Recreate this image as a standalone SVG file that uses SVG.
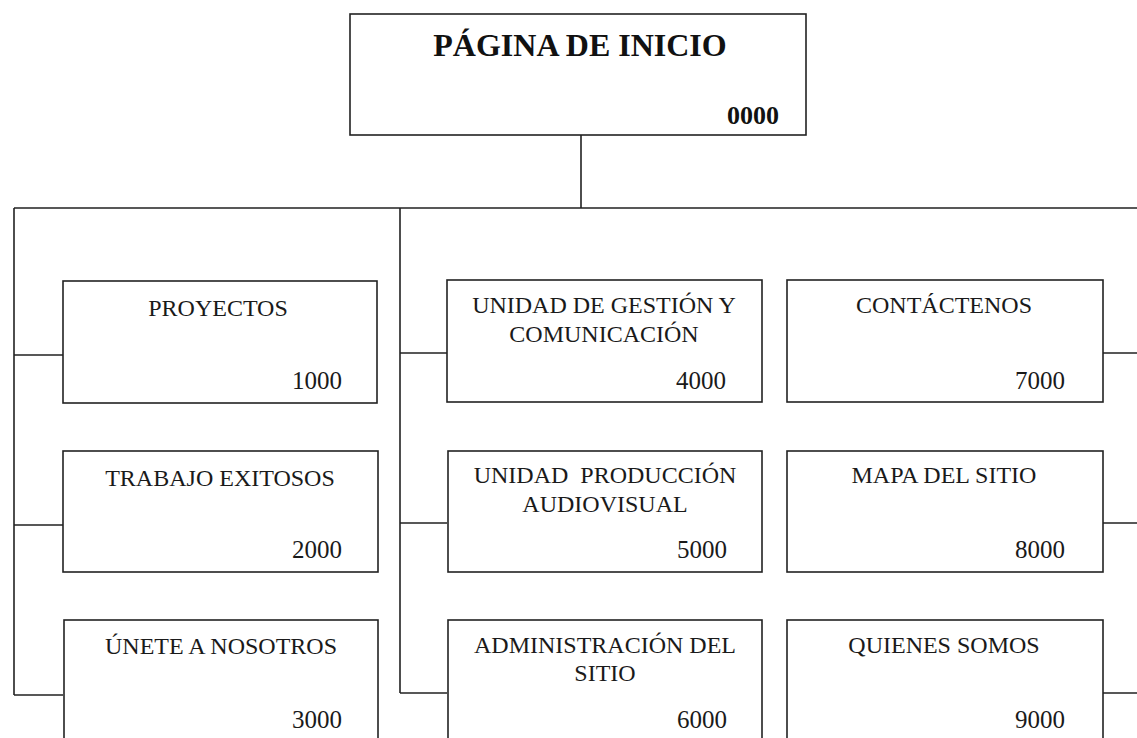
<svg xmlns="http://www.w3.org/2000/svg" width="1137" height="738" viewBox="0 0 1137 738">
<style>
.box{fill:#fff;stroke:#222;stroke-width:1.6}
.ln{fill:none;stroke:#222;stroke-width:1.6}
.t{font-family:"Liberation Serif","Times New Roman",serif;font-size:24px;fill:#1a1a1a;text-anchor:middle;white-space:pre}
.n{font-family:"Liberation Serif","Times New Roman",serif;font-size:25px;fill:#1a1a1a;text-anchor:end}
.tb{font-family:"Liberation Serif","Times New Roman",serif;font-size:32px;font-weight:bold;fill:#111;text-anchor:middle}
.nb{font-family:"Liberation Serif","Times New Roman",serif;font-size:26px;font-weight:bold;fill:#111;text-anchor:end}
</style>
<rect width="1137" height="738" fill="#fff"/>
<g id="connectors">
<path class="ln" d="M581 135V208M14 208H1137M14 208V695M400 208V693"/>
<path class="ln" d="M14 355H63M14 525H63M14 695H63"/>
<path class="ln" d="M400 353H447M400 523H447M400 693H447"/>
<path class="ln" d="M1103 353H1137M1103 523H1137M1103 693H1137"/>
</g>
<g id="n0000"><rect class="box" x="350" y="14" width="456" height="121"/><text class="tb" x="580" y="56">PÁGINA DE INICIO</text><text class="nb" x="779" y="124">0000</text></g>
<g id="n1000"><rect class="box" x="63" y="281" width="314" height="122"/><text class="t" x="218" y="316">PROYECTOS</text><text class="n" x="342" y="389">1000</text></g>
<g id="n2000"><rect class="box" x="63" y="451" width="315" height="121"/><text class="t" x="220" y="486">TRABAJO EXITOSOS</text><text class="n" x="342" y="558">2000</text></g>
<g id="n3000"><rect class="box" x="64" y="620" width="314" height="130"/><text class="t" x="221" y="654">ÚNETE A NOSOTROS</text><text class="n" x="342" y="728">3000</text></g>
<g id="n4000"><rect class="box" x="447" y="280" width="315" height="122"/><text class="t" x="604" y="313">UNIDAD DE GESTIÓN Y</text><text class="t" x="604" y="342">COMUNICACIÓN</text><text class="n" x="726" y="389">4000</text></g>
<g id="n5000"><rect class="box" x="448" y="451" width="314" height="121"/><text class="t" x="605" y="483">UNIDAD  PRODUCCIÓN</text><text class="t" x="605" y="512">AUDIOVISUAL</text><text class="n" x="727" y="558">5000</text></g>
<g id="n6000"><rect class="box" x="448" y="620" width="314" height="130"/><text class="t" x="605" y="653">ADMINISTRACIÓN DEL</text><text class="t" x="605" y="681">SITIO</text><text class="n" x="727" y="728">6000</text></g>
<g id="n7000"><rect class="box" x="787" y="280" width="316" height="122"/><text class="t" x="944" y="313">CONTÁCTENOS</text><text class="n" x="1065" y="389">7000</text></g>
<g id="n8000"><rect class="box" x="787" y="451" width="316" height="121"/><text class="t" x="944" y="483">MAPA DEL SITIO</text><text class="n" x="1065" y="558">8000</text></g>
<g id="n9000"><rect class="box" x="787" y="620" width="316" height="130"/><text class="t" x="944" y="653">QUIENES SOMOS</text><text class="n" x="1065" y="728">9000</text></g>
</svg>
